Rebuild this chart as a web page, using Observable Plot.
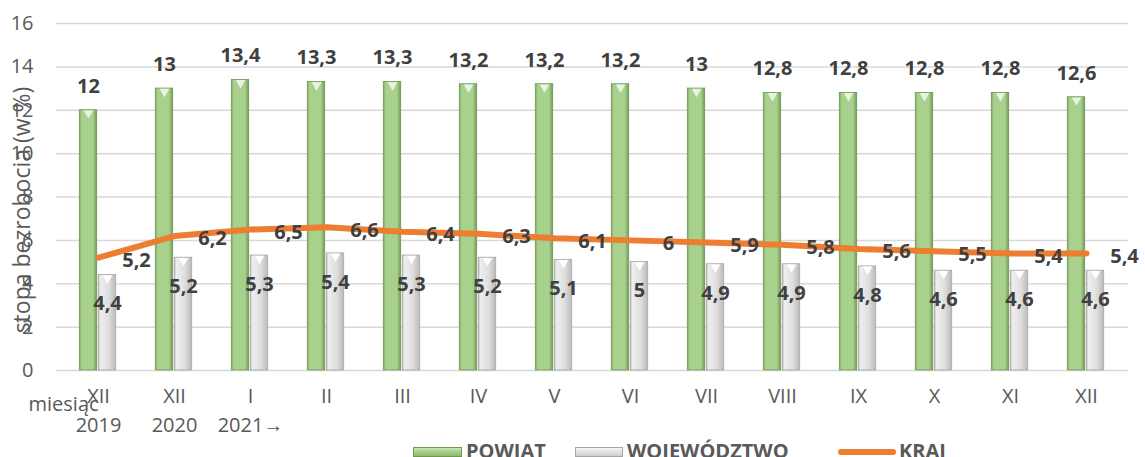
<!DOCTYPE html>
<html><head><meta charset="utf-8">
<script src="https://cdn.jsdelivr.net/npm/d3@7"></script>
<script src="https://cdn.jsdelivr.net/npm/@observablehq/plot@0.6"></script>
<style>
body{margin:0;background:#fff;font-family:"Open Sans",sans-serif;}
#chart{position:relative;width:1145px;height:457px;overflow:hidden;}
#legend{position:relative;height:17px;font:bold 20px "Open Sans",sans-serif;color:#595959;}
#legend .sw{position:absolute;top:7px;height:10px;box-sizing:border-box;}
#legend .tx{position:absolute;top:0;line-height:22px;white-space:nowrap;}
</style>
</head><body>
<div id="chart"></div>
<script>
// ---- data ----
const periods = ["XII 2019","XII 2020","I 2021","II 2021","III 2021","IV 2021","V 2021","VI 2021","VII 2021","VIII 2021","IX 2021","X 2021","XI 2021","XII 2021"];
const monthLabels = ["XII","XII","I","II","III","IV","V","VI","VII","VIII","IX","X","XI","XII"];
const yearLabels = ["2019","2020","2021→","","","","","","","","","","",""];
const powiat = [12,13,13.4,13.3,13.3,13.2,13.2,13.2,13,12.8,12.8,12.8,12.8,12.6];
const wojewodztwo = [4.4,5.2,5.3,5.4,5.3,5.2,5.1,5,4.9,4.9,4.8,4.6,4.6,4.6];
const kraj = [5.2,6.2,6.5,6.6,6.4,6.3,6.1,6,5.9,5.8,5.6,5.5,5.4,5.4];
const yTicks = [0,2,4,6,8,10,12,14,16];
const seriesNames = ["POWIAT","WOJEWÓDZTWO","KRAJ"];
const yTitle = "stopa bezrobocia (w %)";
const xTitle = "miesiąc";

const rows = periods.map((p,i)=>({period:p, month:monthLabels[i], year:yearLabels[i], powiat:powiat[i], woj:wojewodztwo[i], kraj:kraj[i]}));
const fmt = v => String(v).replace(".", ",");

const W = 1145, H = 440, mL = 56, mR = 17, mT = 23, mB = 70;
const bw = (W - mL - mR) / periods.length;
const txt = "#404040", axc = "#595959";

const chart = Plot.plot({
  width: W, height: H,
  marginLeft: mL, marginRight: mR, marginTop: mT, marginBottom: mB,
  style: {fontFamily: "Open Sans, sans-serif", fontSize: "20px", background: "#fff"},
  x: {domain: periods, type: "band", padding: 0, axis: null},
  y: {domain: [0,16], axis: null},
  marks: [
    Plot.gridY(yTicks, {stroke: "#d9d9d9", strokeOpacity: 1, strokeWidth: 1.5}),
    Plot.axisY(yTicks, {tickSize: 0, tickPadding: 23, fontSize: 20, fill: axc, label: null}),
    Plot.text([yTitle], {frameAnchor: "left", textAnchor: "middle", rotate: -90, dx: -34, dy: 13, fontSize: 23, fill: axc, text: d => d}),
    Plot.text([xTitle], {frameAnchor: "bottom-left", textAnchor: "start", dx: -28, dy: 40, fontSize: 20, fill: axc, text: d => d}),
    Plot.text(rows, {x: "period", text: "month", frameAnchor: "bottom", dy: 32, fontSize: 20, fill: axc}),
    Plot.text(rows, {x: "period", text: "year", frameAnchor: "bottom", dy: 61, fontSize: 20, fill: axc}),
    Plot.barY(rows, {x: "period", y: "powiat", fill: "url(#gGreen)", stroke: "#6f9856", strokeWidth: 0.8, insetLeft: bw/2 - 19, insetRight: bw/2 + 1}),
    Plot.barY(rows, {x: "period", y: "woj", fill: "url(#gGrey)", stroke: "#a6a6a6", strokeWidth: 0.8, insetLeft: bw/2, insetRight: bw/2 - 18}),
    Plot.dot(rows, {x: "period", y: "powiat", dx: -10, dy: 3, symbol: "triangle", rotate: 180, r: 3.6, fill: "#e8f4df", stroke: null}),
    Plot.dot(rows, {x: "period", y: "woj", dx: 9, dy: 3, symbol: "triangle", rotate: 180, r: 3.6, fill: "#ffffff", stroke: null}),
    Plot.line(rows, {x: "period", y: "kraj", stroke: "#ED7D31", strokeWidth: 6, strokeLinecap: "round", strokeLinejoin: "round"}),
    Plot.text(rows, {x: "period", y: "powiat", text: d => fmt(d.powiat), dx: -10, dy: -24, fontSize: 20, fontWeight: "bold", fill: txt}),
    Plot.text(rows, {x: "period", y: "woj", text: d => fmt(d.woj), dx: 9, dy: 29, fontSize: 20, fontWeight: "bold", fill: txt}),
    Plot.text(rows, {x: "period", y: "kraj", text: d => fmt(d.kraj), dx: 38, dy: 3, fontSize: 20, fontWeight: "bold", fill: txt})
  ]
});

// gradients for the bars
const defs = d3.select(chart).insert("defs", ":first-child");
function grad(id, stops){
  const g = defs.append("linearGradient").attr("id", id).attr("x1","0").attr("x2","1").attr("y1","0").attr("y2","0");
  stops.forEach(([o,c]) => g.append("stop").attr("offset", o).attr("stop-color", c));
}
grad("gGreen", [[0,"#7aa660"],[0.14,"#a9d18e"],[0.78,"#a9d18e"],[1,"#6f9856"]]);
grad("gGrey", [[0,"#bcbcbc"],[0.12,"#eeeeee"],[0.6,"#dedede"],[1,"#bababa"]]);

const host = document.getElementById("chart");
host.appendChild(chart);

// legend below the svg
const leg = document.createElement("div");
leg.id = "legend";
leg.innerHTML = `
  <div class="sw" style="left:413px;width:49px;background:linear-gradient(#cfe6bf,#a9d18e 40%,#8cbc6d);border:1px solid #6f9856"></div>
  <div class="tx" style="left:466px">${seriesNames[0]}</div>
  <div class="sw" style="left:575px;width:48px;background:linear-gradient(#f7f7f7,#e2e2e2 50%,#cfcfcf);border:1px solid #a6a6a6"></div>
  <div class="tx" style="left:627px">${seriesNames[1]}</div>
  <div class="sw" style="left:838px;width:58px;top:9px;height:6px;background:#ED7D31;border-radius:3px"></div>
  <div class="tx" style="left:899px">${seriesNames[2]}</div>`;
host.appendChild(leg);
</script>
</body></html>
